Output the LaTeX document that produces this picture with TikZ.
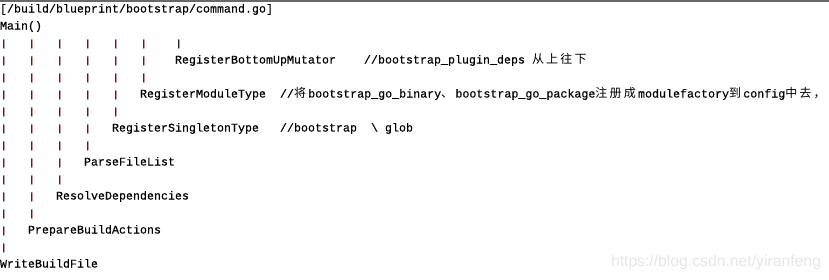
\documentclass[tikz,border=0pt]{standalone}
\usepackage{fontspec}
\setmonofont[FakeBold=0.35,AutoFakeBold=0.35]{Liberation Mono}
\newfontfamily\cjkfont{Noto Sans CJK SC}
\newfontfamily\markfont{Liberation Sans}
\newdimen\upx \upx=0.75pt
% one full-width character in a fixed-width cell
\newcommand\cb[1]{\makebox[14.2\upx][l]{\cjkfont\fontsize{9pt}{9pt}\selectfont #1}}
% a short tree bar
\newcommand\vbar{\scalebox{1.3}[0.8]{|}}
\definecolor{barred}{RGB}{128,16,16}
\definecolor{bardark}{RGB}{40,40,40}
\definecolor{topline}{RGB}{105,105,105}
\definecolor{markgray}{RGB}{230,230,230}
\tikzset{
  code/.style={anchor=base west, inner sep=0pt, outer sep=0pt,
    font=\ttfamily\fontsize{8.75pt}{10pt}\selectfont, text=black},
  bar/.style={code, text=barred},
  darkbar/.style={code, text=bardark},
  watermark/.style={anchor=base west, inner sep=0pt, outer sep=0pt,
    font=\markfont\fontsize{11.8pt}{12pt}\selectfont, text=markgray},
}
\begin{document}
\begin{tikzpicture}[x=0.75pt, y=-0.75pt]
  \useasboundingbox (0,0) rectangle (829,279);
  \fill[white] (0,0) rectangle (829,279);
  \fill[topline] (0,0) rectangle (829,1.5);

  % header
  \node[code] (file) at (0,12.5) {[/build/blueprint/bootstrap/command.go]};
  \node[code] (main) at (0,29.5) {Main()};

  % tree bars: row / columns
  \foreach \r/\cols in {3/{0,4,8,12,16,20}, 4/{0,4,8,12,16,20}, 5/{0,4,8,12,16,20},
                        6/{0,4,8,12,16}, 7/{0,4,8,12,16},
                        8/{0,4,8,12}, 9/{0,4,8,12},
                        10/{0,4,8}, 11/{0,4,8},
                        12/{0,4}, 13/{0,4},
                        14/{0}, 15/{0}} {
    \foreach \c in \cols {
      \node[bar] (bar-\r-\c) at ({7*\c-0.8}, {12.5+17*(\r-1)}) {\vbar};
    }
  }
  \node[darkbar] (bar-3-25) at (174.2,46.5) {\vbar};

  % calls
  \node[code] (bum)  at (175,63.5) {RegisterBottomUpMutator};
  \node[code] (bumc) at (364,63.5) {//bootstrap\_plugin\_deps};
  \node[code] (bumz) at (532,63.5) {\cb{从}\cb{上}\cb{往}\cb{下}};

  \node[code] (rmt)  at (140,97.5) {RegisterModuleType};
  \node[code] (rmtc) at (280,97.5) {//\cb{将}bootstrap\_go\_binary\cb{、}bootstrap\_go\_package\cb{注}\cb{册}\cb{成}modulefactory\cb{到}config\cb{中}\cb{去}\cb{，}};

  \node[code] (rst)  at (112,131.5) {RegisterSingletonType};
  \node[code] (rstc) at (280,131.5) {//bootstrap};
  \node[code] (rsts) at (371,131.5) {\textbackslash};
  \node[code] (rstg) at (385,131.5) {glob};

  \node[code] (pfl) at (84,165.5) {ParseFileList};
  \node[code] (rd)  at (56,199.5) {ResolveDependencies};
  \node[code] (pba) at (28,233.5) {PrepareBuildActions};
  \node[code] (wbf) at (0,267.5)  {WriteBuildFile};

  \node[watermark] (mark) at (611,266) {https://blog.csdn.net/yiranfeng};
\end{tikzpicture}
\end{document}
